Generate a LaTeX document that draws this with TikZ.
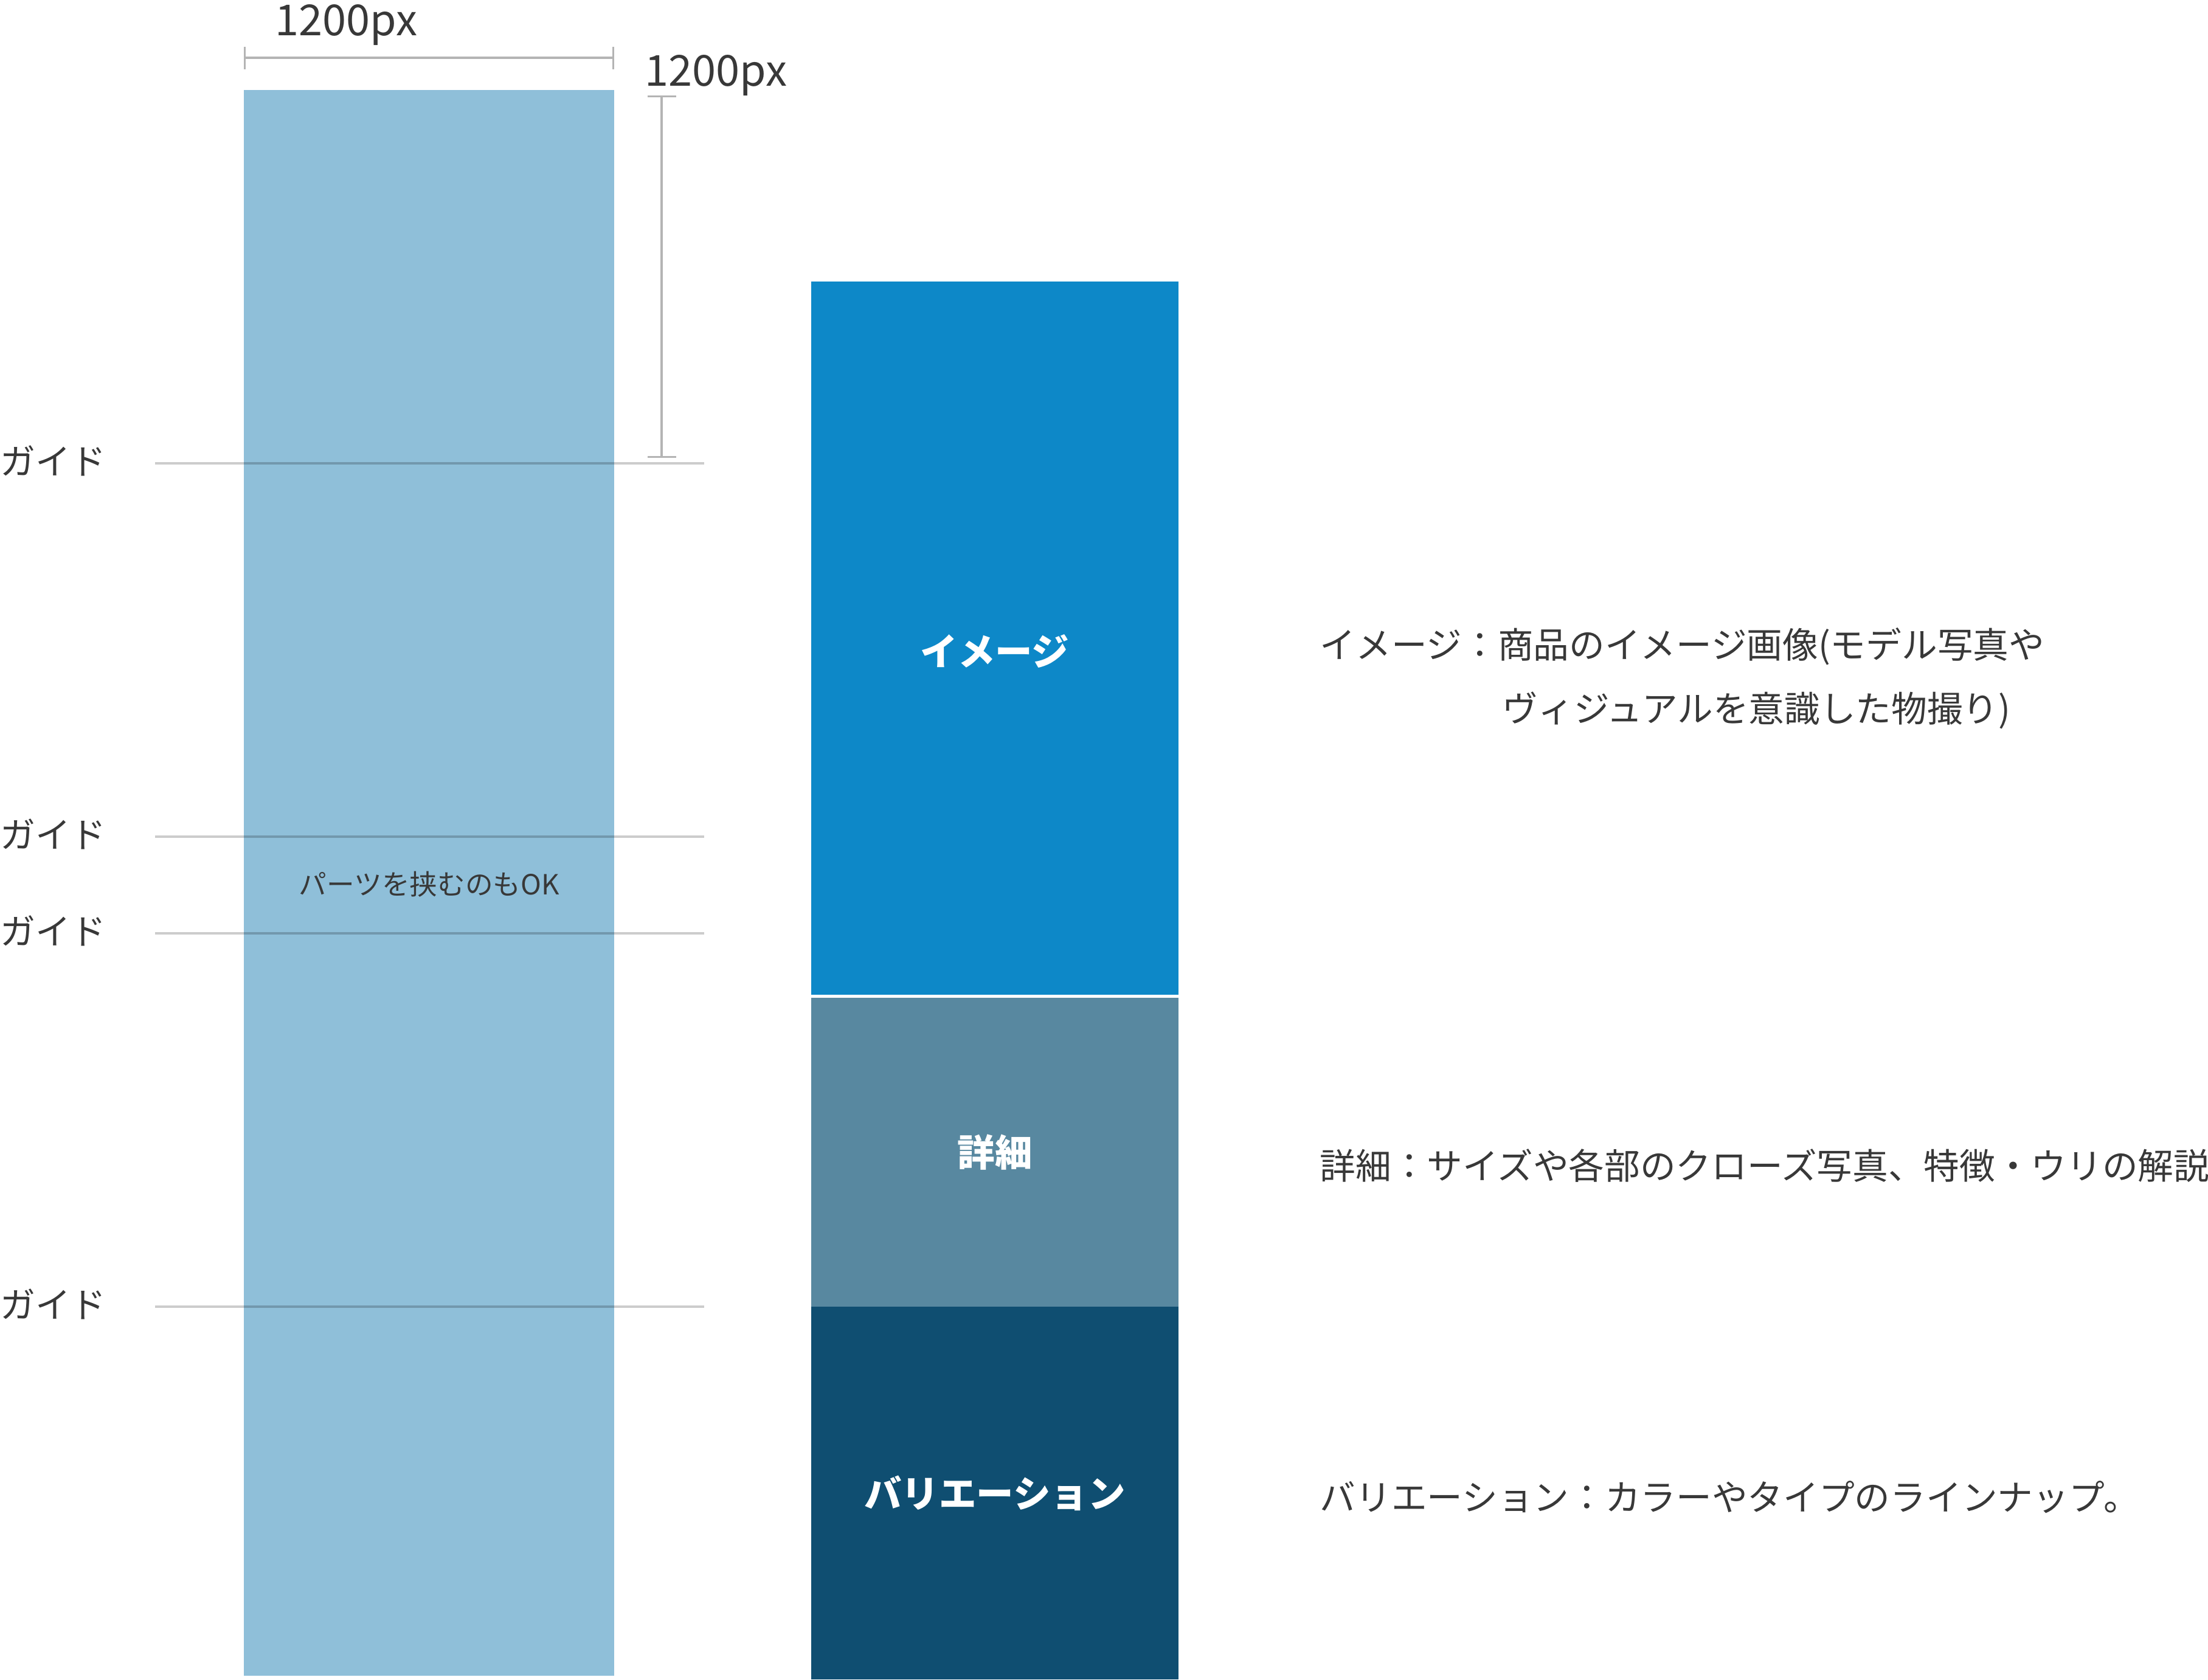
\documentclass[tikz,border=0pt]{standalone}
\definecolor{pageBlue}{HTML}{8FBFD9}
\definecolor{imageBlue}{HTML}{0D88C8}
\definecolor{detailBlue}{HTML}{5888A0}
\definecolor{variationBlue}{HTML}{0F4E71}
\definecolor{dimGray}{HTML}{B4B4B4}
\definecolor{inkGray}{HTML}{383838}
\usepackage{fontspec}
\setmainfont{Noto Sans CJK JP}
\usepackage{tikz}
\usetikzlibrary{arrows.meta,positioning}

\tikzset{
  block/.style={minimum width=6.04cm, inner sep=0pt, text=white,
    font=\fontsize{17.5}{20}\selectfont\bfseries},
  guideline/.style={black, opacity=0.2, line width=1pt},
  guidelabel/.style={anchor=west, inner sep=0pt, text=inkGray,
    font=\fontsize{16.5}{19}\selectfont},
  dimline/.style={dimGray, line width=0.9pt},
  dimlabel/.style={anchor=base west, inner sep=0pt, text=inkGray,
    font=\fontsize{20}{24}\selectfont},
  note/.style={anchor=base west, inner sep=0pt, text=inkGray,
    font=\fontsize{16.7}{20}\selectfont}
}

\begin{document}
\begin{tikzpicture}
  \useasboundingbox (0,0) rectangle (36.31,-27.62);
  % Page column, 1200px wide
  \node[fill=pageBlue, minimum width=6.09cm, minimum height=26.08cm,
        inner sep=0pt] (page) at (7.055,-14.52) {};
  \node[font=\fontsize{13}{15}\selectfont, text=inkGray] (partsOk)
    at (7.06,-14.54) {パーツを挟むのもOK};
  % Width dimension
  \coordinate (widthL) at (4.01,-0.95);
  \coordinate (widthR) at (10.10,-0.95);
  \draw[dimline, {Bar[width=0.37cm]}-{Bar[width=0.37cm]}] (widthL) -- (widthR);
  \node[dimlabel] (widthText) at (4.52,-0.58) {1200px};
  % Height dimension
  \coordinate (heightT) at (10.88,-1.57);
  \coordinate (heightB) at (10.88,-7.53);
  \draw[dimline, {Bar[width=0.47cm]}-{Bar[width=0.47cm]}] (heightT) -- (heightB);
  \node[dimlabel] (heightText) at (10.60,-1.41) {1200px};
  % Guides
  \node[guidelabel] (guideA) at (0,-7.58) {ガイド};
  \node[guidelabel] (guideB) at (0,-13.72) {ガイド};
  \node[guidelabel] (guideC) at (0,-15.31) {ガイド};
  \node[guidelabel] (guideD) at (0,-21.45) {ガイド};
  \draw[guideline] (2.55,-7.62) -- (11.58,-7.62);
  \draw[guideline] (2.55,-13.76) -- (11.58,-13.76);
  \draw[guideline] (2.55,-15.35) -- (11.58,-15.35);
  \draw[guideline] (2.55,-21.49) -- (11.58,-21.49);
  % Product page parts
  \node[block, fill=imageBlue, minimum height=11.73cm] (image)
    at (16.36,-10.495) {};
  \node[block] (imageText) at ([yshift=-0.21cm]image.center) {イメージ};
  \node[block, fill=detailBlue, minimum height=5.08cm] (detail)
    at (16.36,-18.95) {詳細};
  \node[block, fill=variationBlue, minimum height=6.13cm] (variation)
    at (16.36,-24.555) {バリエーション};
  % Notes
  \node[note] (imageNote) at (21.70,-10.82) {イメージ：商品のイメージ画像(モデル写真や};
  \node[note] (imageNoteCont) at ([xshift=3.0cm, yshift=-1.05cm]imageNote.base west)
    {ヴィジュアルを意識した物撮り)};
  \node[note] (detailNote) at (21.70,-19.39) {詳細：サイズや各部のクローズ写真、特徴・ウリの解説};
  \node[note] (variationNote) at (21.70,-24.84) {バリエーション：カラーやタイプのラインナップ。};
\end{tikzpicture}
\end{document}
